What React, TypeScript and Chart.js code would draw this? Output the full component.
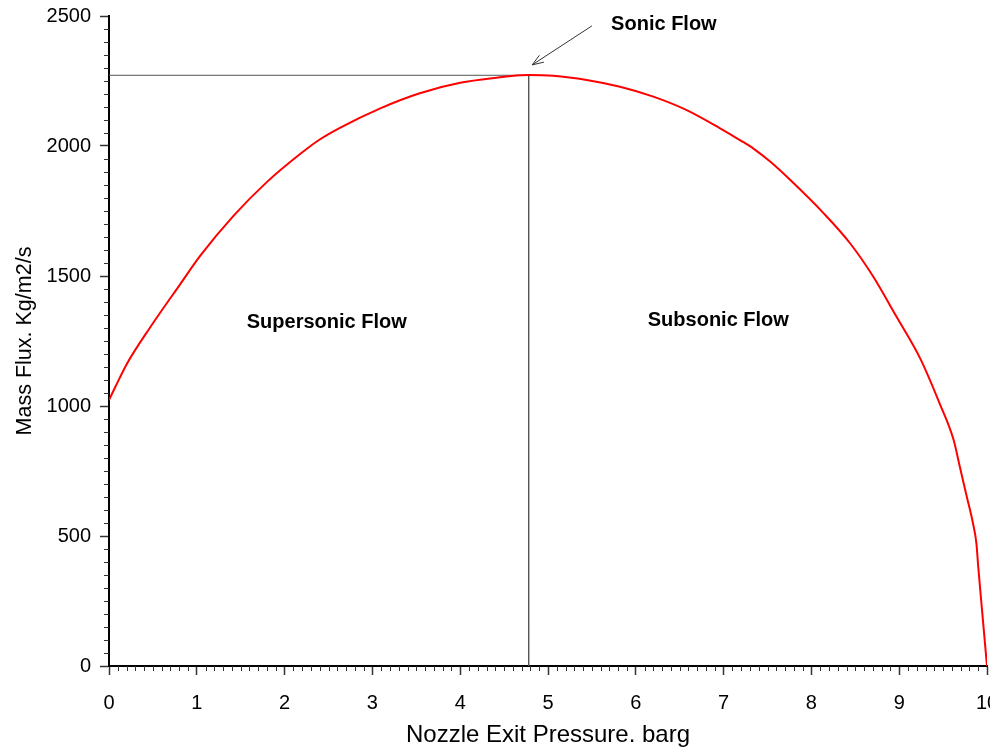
import { useEffect, useRef } from "react";
import { Chart, registerables } from "chart.js";

Chart.register(...registerables);

// Nozzle exit pressure (barg) and the resulting mass flux (kg/m2/s)
const pressureBarg = [
  0, 0.07, 0.2, 0.47, 0.81, 1.04, 1.42, 1.8, 2.18, 2.4, 2.63, 3.09, 3.54, 4.0,
  4.45, 4.68, 4.78, 5.06, 5.44, 5.82, 6.2, 6.58, 6.96, 7.19, 7.34, 7.53, 7.76,
  8.14, 8.44, 8.7, 8.97, 9.24, 9.46, 9.62, 9.69, 9.77, 9.84, 9.88, 9.9, 9.95, 10.0,
];
const massFlux = [
  1023, 1072, 1160, 1303, 1468, 1578, 1732, 1862, 1970, 2025, 2070, 2145, 2203,
  2243, 2264, 2272, 2273, 2270, 2254, 2228, 2190, 2138, 2068, 2022, 1990, 1940,
  1869, 1741, 1626, 1500, 1343, 1182, 1010, 869, 767, 651, 549, 470, 382, 190, 0,
];

// Choked (sonic) operating point
const sonicPressure = 4.78;
const sonicFlux = 2272;

// Axis ranges and tick spacing
const xRange = [0, 10];
const xMajorStep = 1;
const xMinorStep = 0.1;
const yRange = [0, 2500];
const yMajorStep = 500;
const yMinorStep = 50;

// Region labels, placed in data units
const noteTexts = ["Sonic Flow", "Supersonic Flow", "Subsonic Flow"];
const notePressure = [6.32, 2.48, 6.94];
const noteFlux = [2469, 1323, 1328];

// Pointer from the "Sonic Flow" label down to the peak
const arrowStart = [5.5, 2462];
const arrowEnd = [4.82, 2312];

const FONT = "Arial, 'Liberation Sans', sans-serif";

const decorations = {
  id: "decorations",
  afterDraw(chart: any) {
    const { ctx, chartArea } = chart;
    const xs = chart.scales.x;
    const ys = chart.scales.y;
    ctx.save();

    // minor ticks
    ctx.strokeStyle = "#333";
    ctx.lineWidth = 1;
    const nX = Math.round((xRange[1] - xRange[0]) / xMinorStep);
    for (let i = 1; i < nX; i++) {
      if (i % Math.round(xMajorStep / xMinorStep) === 0) continue;
      const px = Math.round(xs.getPixelForValue(xRange[0] + i * xMinorStep)) + 0.5;
      ctx.beginPath();
      ctx.moveTo(px, chartArea.bottom);
      ctx.lineTo(px, chartArea.bottom + 5);
      ctx.stroke();
    }
    const nY = Math.round((yRange[1] - yRange[0]) / yMinorStep);
    for (let i = 1; i < nY; i++) {
      if (i % Math.round(yMajorStep / yMinorStep) === 0) continue;
      const py = Math.round(ys.getPixelForValue(yRange[0] + i * yMinorStep)) + 0.5;
      ctx.beginPath();
      ctx.moveTo(chartArea.left, py);
      ctx.lineTo(chartArea.left - 5, py);
      ctx.stroke();
    }

    // region labels
    ctx.fillStyle = "#000";
    ctx.font = `bold 20px ${FONT}`;
    ctx.textAlign = "center";
    ctx.textBaseline = "middle";
    noteTexts.forEach((t, i) => {
      ctx.fillText(t, xs.getPixelForValue(notePressure[i]), ys.getPixelForValue(noteFlux[i]));
    });

    // arrow
    const x0 = xs.getPixelForValue(arrowStart[0]);
    const y0 = ys.getPixelForValue(arrowStart[1]);
    const x1 = xs.getPixelForValue(arrowEnd[0]);
    const y1 = ys.getPixelForValue(arrowEnd[1]);
    ctx.strokeStyle = "#333";
    ctx.lineWidth = 1;
    ctx.beginPath();
    ctx.moveTo(x0, y0);
    ctx.lineTo(x1, y1);
    ctx.stroke();
    const ang = Math.atan2(y1 - y0, x1 - x0);
    const head = 12;
    const spread = 0.35;
    ctx.beginPath();
    ctx.moveTo(x1 - head * Math.cos(ang - spread), y1 - head * Math.sin(ang - spread));
    ctx.lineTo(x1, y1);
    ctx.lineTo(x1 - head * Math.cos(ang + spread), y1 - head * Math.sin(ang + spread));
    ctx.stroke();

    ctx.restore();
  },
};

export default function App() {
  const canvasRef = useRef<HTMLCanvasElement | null>(null);

  useEffect(() => {
    const canvas = canvasRef.current;
    if (!canvas) return;
    const curve = pressureBarg.map((p, i) => ({ x: p, y: massFlux[i] }));
    const sonicGuide = [
      { x: xRange[0], y: sonicFlux },
      { x: sonicPressure, y: sonicFlux },
      { x: sonicPressure, y: yRange[0] },
    ];

    const chart = new Chart(canvas, {
      type: "line",
      data: {
        datasets: [
          {
            data: curve,
            borderColor: "#ff0000",
            borderWidth: 2,
            pointRadius: 0,
            cubicInterpolationMode: "monotone",
            fill: false,
          },
          {
            data: sonicGuide,
            borderColor: "#555",
            borderWidth: 1,
            pointRadius: 0,
            tension: 0,
            fill: false,
          },
        ],
      },
      options: {
        responsive: false,
        animation: false,
        devicePixelRatio: 1,
        layout: { padding: { top: 16, right: 3, bottom: 0, left: 0 } },
        plugins: {
          legend: { display: false },
          tooltip: { enabled: false },
        },
        scales: {
          x: {
            type: "linear",
            min: xRange[0],
            max: xRange[1],
            afterFit: (s: any) => {
              s.height = 83;
              s.paddingLeft = 0;
              s.paddingRight = 0;
            },
            border: { color: "#000", width: 2 },
            grid: {
              drawOnChartArea: false,
              drawTicks: true,
              tickLength: 9,
              tickColor: "#333",
              tickWidth: 1.5,
            },
            ticks: {
              stepSize: xMajorStep,
              color: "#000",
              padding: 16,
              font: { family: FONT, size: 20 },
              maxRotation: 0,
              callback: (v: any) => String(v),
            },
            title: {
              display: true,
              text: "Nozzle Exit Pressure. barg",
              color: "#000",
              font: { family: FONT, size: 24, lineHeight: 1 },
              padding: { top: 0, bottom: 2 },
            },
          },
          y: {
            type: "linear",
            min: yRange[0],
            max: yRange[1],
            afterFit: (s: any) => {
              s.width = 109;
              s.paddingTop = 0;
              s.paddingBottom = 0;
            },
            border: { color: "#000", width: 2 },
            grid: {
              drawOnChartArea: false,
              drawTicks: true,
              tickLength: 9,
              tickColor: "#333",
              tickWidth: 1.5,
            },
            ticks: {
              stepSize: yMajorStep,
              color: "#000",
              padding: 9,
              font: { family: FONT, size: 20 },
              callback: (v: any) => String(v),
            },
            title: {
              display: true,
              text: "Mass Flux. Kg/m2/s",
              color: "#000",
              font: { family: FONT, size: 21.5 },
              padding: { top: 12, bottom: 0 },
            },
          },
        },
      },
      plugins: [decorations],
    });

    return () => chart.destroy();
  }, []);

  return (
    <div style={{ position: "absolute", left: 0, top: 0, width: 990, height: 749, background: "#fff" }}>
      <canvas ref={canvasRef} width={990} height={749} style={{ display: "block" }} />
    </div>
  );
}
